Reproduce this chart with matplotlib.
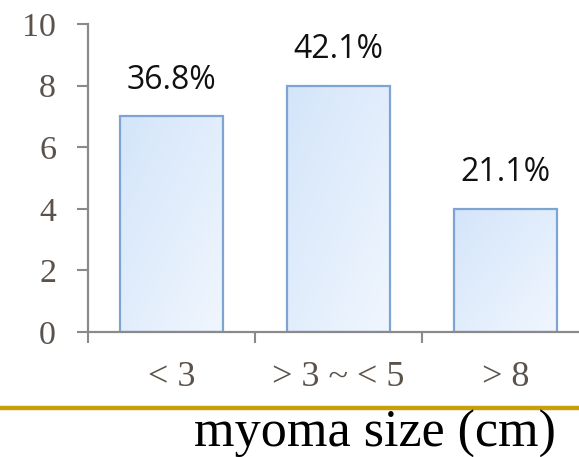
import numpy as np
import matplotlib
matplotlib.use("Agg")
import matplotlib.pyplot as plt
from matplotlib.colors import LinearSegmentedColormap

# myoma size groups, patient counts and share of patients
categories = ["< 3", "> 3 ~ < 5", "> 8"]
counts = [7, 8, 4]
percent_labels = ["36.8%", "42.1%", "21.1%"]
y_ticks = [0, 2, 4, 6, 8, 10]

W, H = 579, 457
fig = plt.figure(figsize=(W / 100, H / 100), dpi=100)
# axes run a little past the right edge so the last category boundary is clipped
ax = fig.add_axes([88 / W, (H - 332) / H, (589 - 88) / W, (332 - 24) / H])

axis_grey = "#8a8a8a"
label_grey = "#5a524b"
serif = ["Liberation Serif", "DejaVu Serif"]

bar_width = 0.62
x = np.arange(len(categories)) + 0.5
bars = ax.bar(x, counts, width=bar_width, color="none", edgecolor="#7ea4d4",
              linewidth=1.6, zorder=3)

# soft diagonal blue gradient inside each bar, darker at the top-left
grad_cmap = LinearSegmentedColormap.from_list("bar_grad", ["#d4e5fa", "#f0f6fe"])
gy, gx = np.mgrid[0:1:100j, 0:1:100j]
grad = (gx + gy) / 2
for b in bars:
    x0, y0 = b.get_x(), b.get_y()
    im = ax.imshow(grad, cmap=grad_cmap, origin="upper", aspect="auto",
                   extent=[x0, x0 + b.get_width(), y0, y0 + b.get_height()],
                   zorder=2, interpolation="bilinear")
    im.set_clip_path(b)

for xi, c, lab in zip(x, counts, percent_labels):
    ax.annotate(lab, (xi, c), xytext=(0, 14), textcoords="offset points",
                ha="center", va="bottom", fontsize=23, family="Open Sans",
                color="#111111")

ax.set_xlim(0, len(categories))
ax.set_ylim(0, 10)

ax.set_yticks(y_ticks)
ax.set_yticklabels([str(t) for t in y_ticks], family=serif, fontsize=24.5,
                   color=label_grey)
ax.tick_params(axis="y", direction="out", length=8, width=1.5, color=axis_grey,
               pad=15)

# ticks sit on category boundaries, labels centred under the bars
ax.set_xticks(np.arange(len(categories) + 1))
ax.set_xticklabels([])
ax.set_xticks(x, minor=True)
ax.set_xticklabels(categories, minor=True, family=serif, fontsize=26,
                   color=label_grey)
ax.tick_params(axis="x", which="major", direction="out", length=8, width=1.5,
               color=axis_grey)
ax.tick_params(axis="x", which="minor", length=0, pad=21)

for side in ["top", "right"]:
    ax.spines[side].set_visible(False)
for side in ["left", "bottom"]:
    ax.spines[side].set_color(axis_grey)
    ax.spines[side].set_linewidth(1.6)
    ax.spines[side].set_zorder(4)

# gold rule and axis title underneath
fig.add_artist(plt.Line2D([0, 1], [1 - 408 / H, 1 - 408 / H],
                          transform=fig.transFigure, color="#c9a00c", lw=3.2))
fig.text(556 / W, 1 - 447 / H, "myoma size (cm)", ha="right", va="baseline",
         fontsize=37.5, family=serif, color="black")

fig.savefig("out.png", dpi=100)
